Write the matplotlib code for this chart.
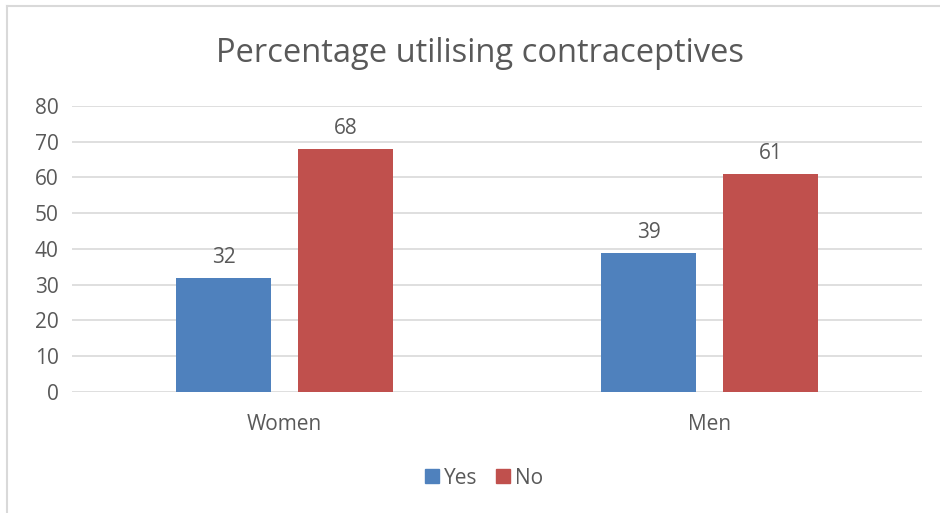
import numpy as np
import matplotlib.pyplot as plt
from matplotlib.lines import Line2D
from matplotlib.patches import Patch

# Contraceptive use by sex (%)
groups = ['Women', 'Men']
yes_vals = [32, 39]
no_vals = [68, 61]

blue = '#4F81BD'
red = '#C0504D'
txt = '#595959'

plt.rcParams['font.family'] = ['Open Sans', 'DejaVu Sans']

fig = plt.figure(figsize=(9.4, 5.13), dpi=100)
ax = fig.add_axes([0.0766, 0.2359, 0.9043, 0.5575])

x = np.arange(len(groups))
w = 0.2235
off = 0.1435
b1 = ax.bar(x - off, yes_vals, w, color=blue, zorder=3)
b2 = ax.bar(x + off, no_vals, w, color=red, zorder=3)

for bars in (b1, b2):
    for b in bars:
        ax.annotate(f'{b.get_height():g}', (b.get_x() + b.get_width() / 2, b.get_height()),
                    xytext=(0, 7), textcoords='offset points',
                    ha='center', va='bottom', fontsize=15, color=txt)

ax.set_xlim(-0.5, 1.5)
ax.set_ylim(0, 80)
ax.set_yticks(range(0, 81, 10))
ax.set_xticks(x)
ax.set_xticklabels(groups)
ax.grid(axis='y', color='#D9D9D9', linewidth=1.2, zorder=0)
for s in ax.spines.values():
    s.set_visible(False)
ax.tick_params(length=0, colors=txt, labelsize=15)
ax.tick_params(axis='y', pad=9.5)
ax.tick_params(axis='x', pad=16)

fig.text(0.511, 0.896, 'Percentage utilising contraceptives', ha='center', va='center',
         fontsize=23.5, color=txt)

handles = [Patch(color=blue, label='Yes'), Patch(color=red, label='No')]
fig.legend(handles=handles, loc='center', bbox_to_anchor=(0.515, 0.068), ncol=2,
           frameon=False, fontsize=15, labelcolor=txt, handlelength=0.65, handleheight=0.65,
           handletextpad=0.25, columnspacing=0.9)

# chart frame edges (top and left)
fig.add_artist(Line2D([0.0075, 1.0], [0.988, 0.988], color='#D9D9D9', linewidth=1.5))
fig.add_artist(Line2D([0.0075, 0.0075], [0.0, 0.988], color='#D9D9D9', linewidth=1.5))

fig.savefig('out.png', dpi=100)
